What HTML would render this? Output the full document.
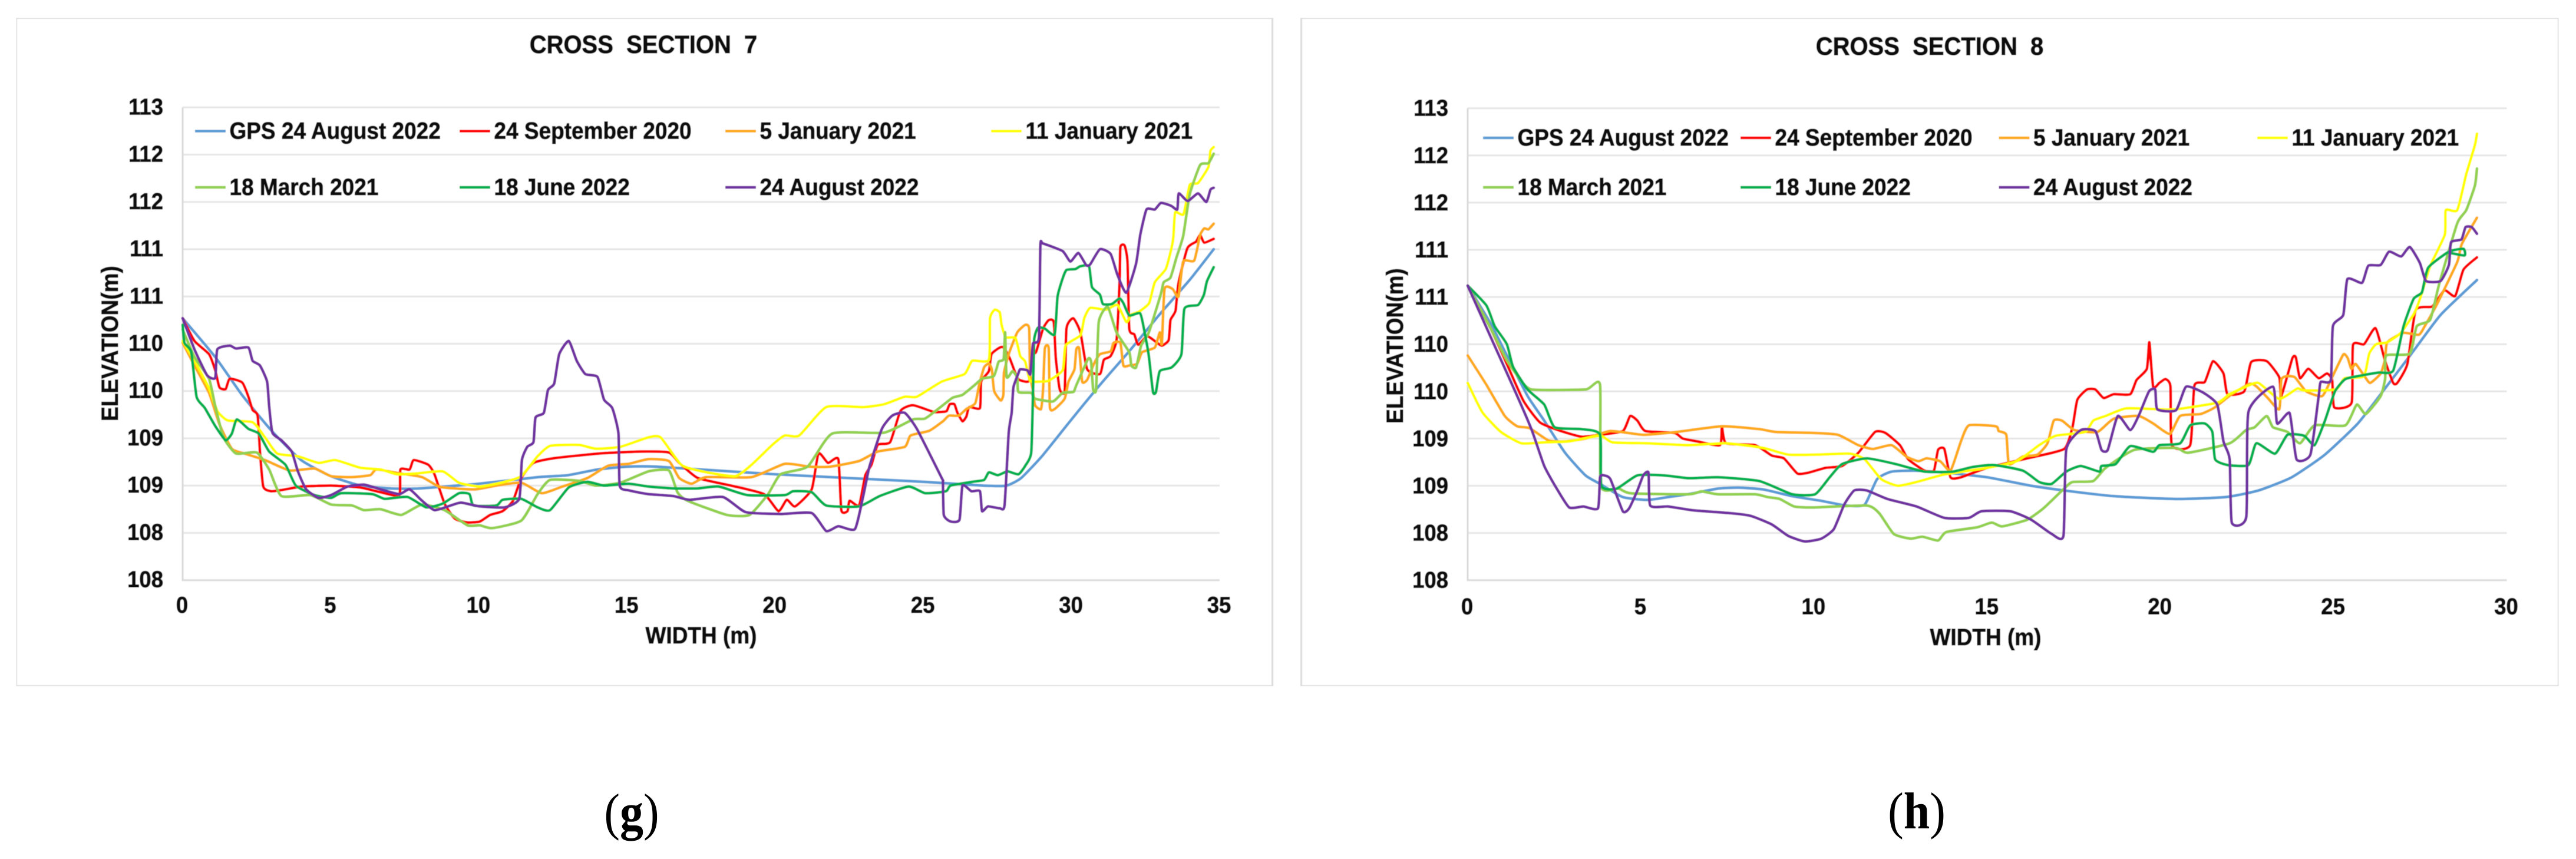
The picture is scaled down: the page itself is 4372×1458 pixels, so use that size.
<!DOCTYPE html>
<html lang="en">
<head>
<meta charset="utf-8">
<title>Cross Sections 7 and 8</title>
<style>
html,body{margin:0;padding:0;background:#fff;width:4372px;height:1458px;overflow:hidden}
svg{display:block}
text{font-family:"Liberation Sans",Arial,sans-serif;font-weight:bold;fill:#0a0a0a;stroke:#0a0a0a;stroke-width:0.9px;white-space:pre}
.cap{font-family:"Liberation Serif","Times New Roman",serif;font-weight:normal;font-size:80px;fill:#000;stroke:none;text-anchor:middle}
.cap tspan{font-weight:bold}
</style>
</head>
<body>
<svg id="figure" xmlns="http://www.w3.org/2000/svg" width="4372" height="1458" viewBox="0 0 4372 1458">
<defs><filter id="soft" x="0" y="0" width="100%" height="100%"><feGaussianBlur stdDeviation="0.6"/></filter></defs>
<rect width="4372" height="1458" fill="#fff"/>
<g filter="url(#soft)">
  <g id="cs7">
    <rect x="27.5" y="30.5" width="2132" height="1134" fill="#fff" stroke="#dcdcdc" stroke-width="3"/>
    <text transform="translate(1092 90) scale(1 1.07)" font-size="40" text-anchor="middle">CROSS  SECTION  7</text>
    <text transform="translate(1190 1092) scale(1 1.07)" font-size="37" text-anchor="middle">WIDTH (m)</text>
    <text transform="translate(200 583) rotate(-90) scale(1 1.07)" font-size="37" text-anchor="middle">ELEVATION(m)</text>
  </g>
  <g id="cs8">
    <rect x="2208.5" y="30.5" width="2134" height="1134" fill="#fff" stroke="#dcdcdc" stroke-width="3"/>
    <text transform="translate(3275 93) scale(1 1.07)" font-size="40" text-anchor="middle">CROSS  SECTION  8</text>
    <text transform="translate(3370 1095) scale(1 1.07)" font-size="37" text-anchor="middle">WIDTH (m)</text>
    <text transform="translate(2381 587) rotate(-90) scale(1 1.07)" font-size="37" text-anchor="middle">ELEVATION(m)</text>
  </g>
</g>
<text class="cap" transform="translate(1072 1408) scale(1 1.1)">(<tspan>g</tspan>)</text>
<text class="cap" transform="translate(3253 1406) scale(1 1.1)">(<tspan>h</tspan>)</text>
</svg>
<script>
const yTickValues=[108,108.5,109,109.5,110,110.5,111,111.5,112,112.5,113];
const yTickLabels=['108','108','109','109','110','110','111','111','112','112','113'];
const cs7XTicks=[0,5,10,15,20,25,30,35];
const cs8XTicks=[0,5,10,15,20,25,30];
const seriesNames=['GPS 24 August 2022','24 September 2020','5 January 2021','11 January 2021','18 March 2021','18 June 2022','24 August 2022'];

const cs7Gps=[[0,110.77],[1.1,110.36],[2,109.96],[3,109.58],[4,109.27],[5,109.1],[6,109],[7,108.97],[8,108.97],[10,109.02],[12,109.09],[13,109.11],[14,109.17],[15,109.2],[16,109.2],[20,109.12],[25,109.04],[27,109],[27.8,109],[28.3,109.08],[29,109.31],[30,109.7],[31,110.08],[32,110.44],[33,110.82],[34,111.18],[34.8,111.5]];
const cs7Sep2020=[[0,110.77],[.4,110.53],[.89,110.39],[1.1,110.22],[1.24,110.04],[1.45,110.02],[1.59,110.13],[2.01,110.09],[2.22,109.94],[2.36,109.8],[2.53,109.74],[2.61,109.36],[2.72,108.99],[2.99,108.94],[3.47,108.96],[4.03,108.99],[5.01,109],[5.98,108.98],[6.68,108.93],[7.31,108.9],[7.35,109.17],[7.66,109.17],[7.8,109.27],[8.29,109.22],[8.5,109.12],[8.84,108.81],[9.19,108.65],[9.61,108.61],[10.03,108.62],[10.38,108.69],[10.8,108.73],[11.15,108.84],[11.43,109.08],[11.84,109.24],[12.54,109.29],[14.08,109.34],[15.47,109.36],[16.41,109.35],[16.76,109.24],[17.39,109.08],[18.51,109],[19.62,108.91],[20.11,108.73],[20.39,108.85],[20.67,108.78],[21.23,108.96],[21.46,109.34],[21.78,109.24],[22.13,109.28],[22.23,108.74],[22.44,108.73],[22.51,108.84],[22.83,108.79],[23.04,109.11],[23.25,109.22],[23.46,109.43],[23.88,109.46],[24.23,109.79],[24.65,109.85],[25.34,109.78],[25.66,109.78],[25.79,109.79],[25.89,109.86],[26.05,109.86],[26.15,109.77],[26.32,109.68],[26.45,109.73],[26.55,109.83],[26.91,109.82],[26.95,110.1],[27.21,110.21],[27.3,110.39],[27.58,110.46],[27.71,110.46],[27.91,110.35],[28.17,110.14],[28.31,110.11],[28.57,110.11],[28.64,110.39],[28.8,110.41],[29.04,110.66],[29.23,110.75],[29.4,110.73],[29.47,110.35],[29.6,110.02],[29.77,110],[29.83,110.66],[30.06,110.77],[30.3,110.62],[30.53,110.23],[30.96,110.18],[31.09,110.33],[31.32,110.37],[31.52,110.54],[31.62,111.12],[31.65,111.52],[31.79,111.54],[31.89,111.37],[31.95,110.66],[32.12,110.6],[32.25,110.49],[32.55,110.58],[32.85,110.52],[33.05,110.48],[33.28,110.54],[33.34,110.75],[33.51,110.85],[33.61,111.14],[33.91,111.51],[34.2,111.58],[34.34,111.65],[34.48,111.57],[34.8,111.61]];
const cs7Jan05=[[0,110.51],[.4,110.27],[.89,109.98],[1.24,109.65],[1.66,109.39],[2.08,109.34],[2.78,109.27],[3.61,109.16],[4.45,109.18],[5.01,109.1],[5.71,109.09],[6.33,109.11],[6.54,109.17],[7.31,109.13],[8.08,109.09],[8.64,108.99],[9.19,108.97],[9.89,108.96],[10.59,109],[11.43,109.03],[12.12,108.92],[12.82,108.99],[13.66,109.08],[14.36,109.21],[15.05,109.23],[15.72,109.28],[16.41,109.26],[16.76,109.08],[17.18,109.02],[17.67,109.09],[19.2,109.09],[20.32,109.23],[21.16,109.2],[21.85,109.2],[22.83,109.26],[23.46,109.36],[24.37,109.41],[24.57,109.53],[25.2,109.58],[25.66,109.68],[25.86,109.74],[26.19,109.74],[26.45,109.81],[26.75,109.87],[26.88,110.06],[27.05,110.25],[27.21,110.29],[27.31,110.23],[27.39,110],[27.61,109.9],[27.7,109.96],[27.72,110.19],[27.88,110.39],[28.17,110.62],[28.44,110.7],[28.57,110.66],[28.6,110.19],[28.7,110],[28.77,109.85],[28.97,109.81],[29.04,110.02],[29.1,110.45],[29.23,110.45],[29.27,109.83],[29.43,109.81],[29.77,109.92],[29.9,110.1],[30.1,110.23],[30.16,110.44],[30.26,110.45],[30.36,110.1],[30.53,110.12],[30.76,110.29],[30.96,110.39],[31.32,110.42],[31.42,110.51],[31.65,110.51],[31.75,110.27],[31.95,110.27],[32.22,110.29],[32.38,110.41],[32.81,110.46],[32.98,110.62],[33.05,110.5],[33.14,111.08],[33.41,111.08],[33.61,111],[33.77,111.37],[34.14,111.38],[34.34,111.65],[34.48,111.72],[34.62,111.71],[34.8,111.77]];
const cs7Jan11=[[0,110.53],[.4,110.32],[.89,110.03],[1.17,109.79],[1.52,109.69],[2.36,109.67],[2.78,109.51],[3.19,109.34],[3.89,109.31],[4.59,109.24],[5.15,109.27],[5.98,109.19],[6.68,109.17],[7.24,109.12],[7.94,109.13],[8.78,109.15],[9.33,109.03],[10.03,108.99],[10.87,109.04],[11.43,109.1],[11.98,109.31],[12.4,109.42],[13.38,109.43],[13.94,109.39],[14.77,109.41],[15.72,109.51],[16.13,109.51],[16.83,109.22],[17.53,109.15],[18.65,109.1],[19.2,109.22],[19.9,109.43],[20.32,109.53],[20.81,109.53],[21.72,109.83],[22.97,109.83],[23.67,109.86],[24.37,109.94],[24.78,109.94],[25.62,110.1],[26.39,110.18],[26.65,110.32],[27.21,110.33],[27.25,110.77],[27.41,110.86],[27.58,110.83],[27.64,110.7],[27.78,110.57],[28.11,110.56],[28.27,110.37],[28.44,110.31],[28.6,110.11],[28.97,110.1],[29.23,110.11],[29.7,110.22],[29.8,110.48],[30.3,110.59],[30.43,110.77],[30.63,110.88],[31.16,110.86],[31.55,110.91],[31.85,110.73],[32.02,110.81],[32.28,110.84],[32.62,110.93],[32.81,111.15],[33.18,111.29],[33.38,111.52],[33.44,111.64],[33.5,111.89],[33.78,111.87],[33.99,112.18],[34.27,112.2],[34.62,112.37],[34.69,112.54],[34.8,112.58]];
const cs7Mar18=[[0,110.65],[.4,110.36],[.89,110.13],[1.1,109.84],[1.38,109.51],[1.8,109.34],[2.5,109.35],[2.92,109.17],[3.33,108.89],[4.31,108.9],[5.01,108.8],[5.71,108.79],[6.12,108.74],[6.68,108.75],[7.38,108.69],[8.08,108.8],[8.84,108.74],[9.61,108.58],[10.03,108.58],[10.45,108.55],[11.43,108.63],[11.98,108.91],[12.4,109.06],[13.38,109.05],[13.94,109],[14.77,109.03],[15.72,109.15],[16.41,109.16],[16.7,108.93],[17.04,108.84],[18.37,108.69],[19.13,108.69],[19.76,108.91],[20.18,109.12],[21.09,109.2],[21.92,109.55],[23.67,109.56],[24.65,109.7],[25.06,109.71],[25.66,109.85],[25.99,109.93],[26.32,109.96],[26.72,110.06],[26.98,110.13],[27.38,110.16],[27.54,110.31],[27.71,110.34],[27.76,110.62],[27.81,110.15],[28.01,110.21],[28.17,110.14],[28.21,109.99],[28.64,109.98],[28.77,109.92],[29.37,109.89],[29.7,109.98],[30.06,109.99],[30.16,110.06],[30.56,110.34],[30.66,110.31],[30.73,110.02],[30.83,110.02],[30.92,110.73],[31.22,110.89],[31.52,110.62],[31.95,110.41],[32.02,110.27],[32.18,110.25],[32.35,110.48],[32.61,110.62],[33.01,111.02],[33.11,111.15],[33.34,111.2],[33.54,111.41],[33.77,111.64],[33.99,112.08],[34.34,112.39],[34.62,112.41],[34.8,112.51]];
const cs7Jun18=[[0,110.7],[.06,110.51],[.29,110.41],[.47,109.94],[.75,109.82],[1.1,109.63],[1.45,109.48],[1.66,109.55],[1.83,109.7],[2.22,109.6],[2.57,109.55],[2.92,109.36],[3.47,109.22],[3.82,109],[4.45,108.9],[5.01,108.87],[5.36,108.92],[6.4,108.91],[6.82,108.86],[7.59,108.88],[8.22,108.77],[8.78,108.81],[9.33,108.92],[9.68,108.91],[9.82,108.79],[10.59,108.79],[10.8,108.85],[11.43,108.86],[11.98,108.77],[12.4,108.74],[13.03,108.98],[13.66,109.04],[14.22,109],[15.05,109.02],[15.72,108.99],[16.55,108.97],[17.39,108.97],[18.09,108.99],[19.06,108.9],[20.32,108.9],[20.6,108.94],[21.23,108.93],[21.72,108.79],[22.83,108.78],[23.53,108.89],[24.5,108.99],[25.06,108.92],[25.76,108.94],[25.92,109],[26.65,109.04],[27.05,109.06],[27.21,109.14],[27.51,109.11],[27.84,109.15],[28.21,109.12],[28.44,109.21],[28.64,109.35],[28.7,109.98],[28.74,110.54],[28.87,110.67],[29.1,110.66],[29.43,110.6],[29.53,111],[29.7,111.19],[29.83,111.28],[30.13,111.29],[30.3,111.32],[30.59,111.32],[30.69,111.1],[30.96,111.02],[31.06,110.92],[31.36,110.92],[31.62,110.98],[31.75,110.93],[31.95,110.8],[32.32,110.82],[32.48,110.6],[32.61,110.37],[32.75,109.99],[32.85,109.99],[32.98,110.21],[33.38,110.25],[33.71,110.39],[33.81,110.87],[34.27,110.91],[34.47,111.02],[34.57,111.16],[34.8,111.31]];
const cs7Aug24=[[0,110.77],[.4,110.44],[.82,110.17],[1.1,110.14],[1.17,110.44],[1.59,110.48],[1.8,110.45],[2.22,110.46],[2.36,110.32],[2.61,110.27],[2.85,110.1],[2.92,109.84],[3.03,109.56],[3.33,109.48],[3.68,109.36],[3.89,109.15],[4.17,108.96],[4.59,108.87],[5.01,108.9],[5.57,108.99],[6.12,109.01],[6.68,108.96],[7.31,108.91],[7.66,108.96],[8.08,108.84],[8.5,108.74],[9.05,108.79],[9.4,108.82],[10.03,108.78],[10.87,108.77],[11.36,108.86],[11.45,109.27],[11.63,109.41],[11.84,109.46],[11.91,109.72],[12.19,109.77],[12.33,110.01],[12.54,110.08],[12.71,110.39],[13.03,110.53],[13.3,110.32],[13.59,110.18],[14,110.15],[14.22,109.91],[14.5,109.82],[14.71,109.55],[14.75,109],[15.05,108.95],[15.72,108.91],[16.55,108.89],[17.11,108.85],[18.23,108.88],[19,108.72],[20.18,108.7],[21.23,108.71],[21.72,108.52],[22.13,108.57],[22.69,108.54],[22.97,108.89],[23.18,109.2],[23.6,109.6],[23.95,109.74],[24.37,109.77],[24.78,109.6],[25.62,109.08],[25.66,109.04],[25.69,108.69],[25.92,108.62],[26.22,108.64],[26.32,109],[26.62,108.94],[26.91,108.94],[26.98,108.73],[27.18,108.78],[27.58,108.76],[27.74,108.79],[27.88,109.56],[27.98,109.77],[28.04,110.04],[28.21,110.19],[28.27,110.23],[28.51,110.22],[28.61,110.18],[28.7,110.5],[28.9,110.57],[28.95,111.54],[29.04,111.56],[29.7,111.48],[29.96,111.37],[30.23,111.46],[30.5,111.33],[30.63,111.34],[30.96,111.5],[31.32,111.45],[31.55,111.23],[31.85,111.04],[32.18,111.35],[32.32,111.65],[32.53,111.92],[32.81,111.92],[33.02,111.99],[33.36,111.96],[33.57,111.92],[33.62,112.09],[33.92,112.01],[34.27,112.09],[34.55,112],[34.69,112.13],[34.8,112.15]];

const cs8Gps=[[0,111.12],[.66,110.72],[1.13,110.38],[1.73,109.95],[2.21,109.69],[2.81,109.35],[3.4,109.11],[3.82,109.02],[4.48,108.88],[5.19,108.85],[5.79,108.88],[6.51,108.92],[7.22,108.97],[7.82,108.98],[8.54,108.96],[9.37,108.89],[10.21,108.84],[10.93,108.79],[11.46,108.8],[11.82,109.07],[12.24,109.15],[12.96,109.16],[13.77,109.14],[15,109.09],[16.27,109],[17.22,108.95],[18.65,108.89],[20.45,108.86],[21.88,108.88],[22.83,108.95],[23.79,109.09],[24.75,109.33],[25.7,109.66],[26.42,110],[27.25,110.4],[28.09,110.81],[29.14,111.18]];
const cs8Sep2020=[[0,111.12],[.66,110.67],[1.13,110.29],[1.61,109.9],[2.09,109.67],[2.69,109.58],[3.28,109.52],[3.82,109.54],[4.48,109.58],[4.69,109.74],[4.9,109.69],[5.13,109.58],[5.97,109.56],[6.21,109.5],[6.63,109.47],[7.28,109.43],[7.34,109.62],[7.46,109.45],[8.3,109.43],[8.78,109.32],[9.13,109.29],[9.52,109.13],[9.85,109.14],[10.33,109.19],[10.81,109.21],[11.28,109.35],[11.76,109.57],[12.06,109.56],[12.48,109.43],[12.72,109.28],[13.19,109.16],[13.46,109.16],[13.58,109.38],[13.76,109.39],[13.94,109.09],[14.24,109.09],[15,109.19],[16.15,109.29],[17.22,109.39],[17.46,109.62],[17.6,109.91],[17.88,110.02],[18.12,110.02],[18.36,109.93],[18.65,109.97],[19.13,109.97],[19.31,110.12],[19.61,110.24],[19.68,110.52],[19.79,110.05],[19.97,110.09],[20.15,110.13],[20.29,110.05],[20.33,109.43],[20.86,109.43],[20.98,110.06],[21.28,110.1],[21.52,110.32],[21.82,110.19],[21.94,109.97],[22.42,110],[22.62,110.31],[23.07,110.32],[23.43,110.15],[23.49,109.95],[23.81,110.35],[23.91,110.36],[24.03,110.14],[24.27,110.24],[24.57,110.14],[24.81,110.19],[24.96,110.12],[25.02,109.83],[25.52,109.88],[25.56,110.49],[25.88,110.5],[26.21,110.67],[26.48,110.33],[26.72,110.09],[26.84,110.09],[27.13,110.29],[27.37,110.86],[27.85,110.9],[28.2,111.07],[28.51,111.01],[28.75,111.29],[29.14,111.42]];
const cs8Jan05=[[0,110.38],[.54,110.07],[1.07,109.74],[1.43,109.63],[1.79,109.61],[2.33,109.48],[2.81,109.47],[3.4,109.5],[4.12,109.58],[5.07,109.54],[6.03,109.57],[7.34,109.63],[8.42,109.6],[8.9,109.57],[9.97,109.56],[10.69,109.54],[11.28,109.43],[11.7,109.39],[12.24,109.43],[12.66,109.31],[13.01,109.26],[13.25,109.29],[13.64,109.26],[13.94,109.16],[14.24,109.47],[14.47,109.64],[15.25,109.63],[15.33,109.58],[15.55,109.54],[15.63,109.23],[16.03,109.31],[16.45,109.33],[16.74,109.45],[16.92,109.69],[17.16,109.69],[17.52,109.59],[18.18,109.57],[18.65,109.71],[19.37,109.74],[19.79,109.66],[20.27,109.55],[20.57,109.74],[21.16,109.76],[21.57,109.83],[22.06,109.97],[22.58,110.08],[22.78,110.05],[23.1,109.93],[23.43,109.81],[23.49,110.12],[23.62,110.16],[23.88,110.15],[24.21,110],[24.67,109.95],[24.92,110.12],[25.28,110.39],[25.41,110.35],[25.51,110.24],[25.64,110.29],[25.93,110.14],[26.06,110.09],[26.36,110.19],[26.49,110.35],[26.55,110.52],[27.01,110.62],[27.46,110.6],[27.63,110.69],[27.98,110.92],[28.57,111.37],[28.7,111.56],[29.14,111.84]];
const cs8Jan11=[[0,110.09],[.42,109.78],[.96,109.57],[1.55,109.45],[2.21,109.46],[2.93,109.47],[3.82,109.53],[4.18,109.46],[5.19,109.45],[6.39,109.43],[7.46,109.45],[8.54,109.4],[9.25,109.33],[10.09,109.33],[11.04,109.34],[11.46,109.28],[11.94,109.07],[12.42,109],[12.96,109.04],[13.77,109.12],[15,109.19],[15.85,109.26],[16.5,109.43],[16.98,109.53],[17.82,109.57],[18.06,109.69],[18.42,109.74],[19.01,109.82],[19.97,109.81],[20.45,109.81],[21.64,109.88],[21.99,109.97],[22.47,110.05],[22.83,110.09],[23.43,109.92],[23.95,110.03],[24.14,110.01],[25.06,110.02],[25.32,110.14],[25.87,110.16],[26.03,110.4],[26.23,110.5],[26.55,110.52],[26.94,110.62],[27.33,110.83],[27.53,111.02],[27.79,111.33],[28.21,111.66],[28.24,111.92],[28.57,111.92],[28.83,112.3],[29.08,112.61],[29.14,112.73]];
const cs8Mar18=[[0,111.12],[.66,110.67],[1.13,110.33],[1.49,110.14],[1.85,110.02],[3.4,110.02],[3.82,110.07],[3.84,109],[4.36,108.97],[4.72,108.92],[6.39,108.91],[6.75,108.94],[7.22,108.91],[8.3,108.91],[8.66,108.88],[9.01,108.86],[9.43,108.78],[9.97,108.77],[11.52,108.79],[11.88,108.71],[12.3,108.49],[12.78,108.44],[13.13,108.46],[13.58,108.42],[13.82,108.51],[14.71,108.56],[15.13,108.61],[15.43,108.57],[16.15,108.64],[16.62,108.76],[17.22,108.97],[17.46,109.04],[18.06,109.05],[18.42,109.19],[19.25,109.38],[20.45,109.4],[20.8,109.35],[22,109.45],[22.47,109.59],[22.72,109.62],[23.07,109.74],[23.25,109.62],[23.67,109.57],[24.03,109.45],[24.45,109.64],[25.34,109.64],[25.67,109.86],[25.93,109.76],[26.36,109.95],[26.49,110.14],[26.52,110.38],[27.2,110.4],[27.4,110.69],[27.79,110.76],[28.05,111.14],[28.57,111.78],[28.83,111.92],[29.08,112.18],[29.14,112.36]];
const cs8Jun18=[[0,111.12],[.54,110.91],[.78,110.69],[1.13,110.5],[1.31,110.26],[1.73,110.02],[2.21,109.86],[2.51,109.62],[3.28,109.6],[3.82,109.54],[3.86,109],[4.3,108.97],[4.9,109.11],[5.67,109.11],[6.39,109.08],[7.22,109.09],[8.42,109.05],[9.37,108.91],[10.03,108.91],[10.45,109.09],[10.81,109.23],[11.52,109.29],[12.36,109.23],[13.19,109.15],[14,109.15],[14.59,109.2],[15.19,109.22],[16.03,109.16],[16.5,109.04],[16.86,109.02],[17.28,109.15],[17.7,109.21],[18.24,109.15],[18.3,109.21],[18.71,109.23],[19.13,109.42],[19.79,109.36],[19.97,109.43],[20.57,109.45],[20.86,109.64],[21.28,109.66],[21.5,109.57],[21.58,109.28],[21.94,109.22],[22.54,109.22],[22.77,109.45],[23.31,109.34],[23.67,109.54],[24.15,109.53],[24.45,109.43],[24.75,109.69],[25.04,110],[25.34,110.13],[25.82,110.17],[26.3,110.2],[26.72,110.22],[27.02,110.69],[27.31,110.98],[27.55,111.05],[27.73,111.31],[28.33,111.48],[28.75,111.51],[28.78,111.44],[28.33,111.47]];
const cs8Aug24=[[0,111.12],[.78,110.48],[1.37,110],[1.85,109.59],[2.21,109.21],[2.57,108.97],[2.93,108.77],[3.34,108.78],[3.76,108.76],[3.82,109.09],[3.94,109.11],[4.12,109.07],[4.48,108.73],[4.66,108.76],[4.9,108.95],[5.07,109.11],[5.22,109.14],[5.27,108.79],[5.79,108.78],[6.51,108.74],[7.58,108.71],[8.18,108.68],[8.78,108.59],[9.25,108.47],[9.73,108.41],[10.21,108.44],[10.57,108.54],[10.87,108.8],[11.16,108.95],[11.52,108.95],[12.12,108.86],[12.96,108.78],[13.76,108.66],[14.47,108.66],[14.83,108.73],[15.67,108.73],[16.27,108.64],[16.86,108.49],[17.2,108.47],[17.28,109.38],[17.7,109.59],[18.12,109.58],[18.3,109.38],[18.48,109.38],[18.77,109.74],[19.13,109.59],[19.37,109.74],[19.67,110],[19.85,110.02],[19.91,109.81],[20.45,109.8],[20.74,110.05],[21.22,109.99],[21.64,109.86],[21.82,109.47],[22,109.28],[22.06,108.61],[22.48,108.67],[22.54,109.78],[23.25,110.05],[23.37,109.66],[23.73,109.77],[23.93,109.28],[24.33,109.33],[24.57,109.95],[24.63,110.1],[24.92,110.12],[24.98,110.69],[25.28,110.81],[25.4,111.19],[25.82,111.15],[26,111.33],[26.36,111.34],[26.6,111.48],[26.95,111.43],[27.2,111.53],[27.49,111.36],[27.67,111.17],[28.09,111.17],[28.33,111.34],[28.39,111.58],[28.69,111.61],[28.81,111.74],[28.99,111.74],[29.14,111.67]];

const seriesColors=['#5B9BD5','#FF0000','#FFAA1E','#FFFF00','#92D050','#00B050','#7030A0'];
const SVGNS='http://www.w3.org/2000/svg';

function addText(parent,x,y,str,size,anchor){
  const t=document.createElementNS(SVGNS,'text');
  t.setAttribute('transform','translate('+x+' '+y+') scale(1 1.07)');
  t.setAttribute('font-size',size);
  t.setAttribute('text-anchor',anchor);
  t.textContent=str;
  parent.appendChild(t);
  return t;
}

function smoothPath(pts){
  const k=0.09;
  let d='M'+pts[0][0].toFixed(1)+' '+pts[0][1].toFixed(1);
  for(let i=0;i<pts.length-1;i++){
    const p0=pts[Math.max(i-1,0)],p1=pts[i],p2=pts[i+1],p3=pts[Math.min(i+2,pts.length-1)];
    d+='C'+(p1[0]+(p2[0]-p0[0])*k).toFixed(1)+' '+(p1[1]+(p2[1]-p0[1])*k).toFixed(1)+' '
      +(p2[0]-(p3[0]-p1[0])*k).toFixed(1)+' '+(p2[1]-(p3[1]-p1[1])*k).toFixed(1)+' '
      +p2[0].toFixed(1)+' '+p2[1].toFixed(1);
  }
  return d;
}

function drawChart(rootId,g,xTicks,seriesData){
  const root=document.getElementById(rootId);
  const sx=v=>g.x0+(v/xTicks[xTicks.length-1])*(g.x1-g.x0);
  const sy=v=>g.yBot-((v-108)/5)*(g.yBot-g.yTop);
  yTickValues.forEach((v,i)=>{
    if(i>0){
      const ln=document.createElementNS(SVGNS,'line');
      ln.setAttribute('x1',g.x0);
      ln.setAttribute('x2',g.x1);
      ln.setAttribute('y1',sy(v));
      ln.setAttribute('y2',sy(v));
      ln.setAttribute('stroke','#e6e6e6');
      ln.setAttribute('stroke-width','3');
      
      
      root.appendChild(ln);
    }
    const t=addText(root,g.yLabelX,sy(v)+g.yLabelDy,yTickLabels[i],36.5,'end');
    
    
  });
  const ya=document.createElementNS(SVGNS,'path');
  ya.setAttribute('d','M'+g.x0+' '+g.yTop+'V'+g.yBot+'H'+g.x1);
  ya.setAttribute('fill','none');
  ya.setAttribute('stroke','#d9d9d9');
  ya.setAttribute('stroke-width','3');
  
  
  root.appendChild(ya);
  xTicks.forEach(v=>{
    const t=addText(root,sx(v)-1,g.xLabelY,String(v),36.5,'middle');
    
    
  });
  seriesData.forEach((pts,i)=>{
    const p=document.createElementNS(SVGNS,'path');
    p.setAttribute('d',smoothPath(pts.map(d=>[sx(d[0]),sy(d[1])])));
    p.setAttribute('fill','none');
    p.setAttribute('stroke',seriesColors[i]);
    p.setAttribute('stroke-width','4.6');
    p.setAttribute('stroke-linejoin','round');
    p.setAttribute('stroke-linecap','round');
    
    p.setAttribute('data-series',seriesNames[i]);
    
    root.appendChild(p);
  });
  seriesNames.forEach((name,i)=>{
    const col=i<4?i:i-4;
    const rowY=i<4?g.legendRows[0]:g.legendRows[1];
    const ll=document.createElementNS(SVGNS,'line');
    ll.setAttribute('x1',g.legendCols[col]);
    ll.setAttribute('x2',g.legendCols[col]+52);
    ll.setAttribute('y1',rowY);
    ll.setAttribute('y2',rowY);
    ll.setAttribute('stroke',seriesColors[i]);
    ll.setAttribute('stroke-width','4.4');
    
    
    root.appendChild(ll);
    const t=addText(root,g.legendCols[col]+58.5,rowY+13,name,37,'start');
    
    
  });
}

drawChart('cs7',{x0:310,x1:2070,yTop:182.3,yBot:984.7,yLabelX:277,yLabelDy:12,xLabelY:1040,legendCols:[331,780,1231,1682],legendRows:[222.6,318]},cs7XTicks,[cs7Gps,cs7Sep2020,cs7Jan05,cs7Jan11,cs7Mar18,cs7Jun18,cs7Aug24]);
drawChart('cs8',{x0:2491,x1:4254.5,yTop:183.7,yBot:984.7,yLabelX:2458,yLabelDy:13,xLabelY:1042.7,legendCols:[2517,2954,3392.5,3831],legendRows:[234,318]},cs8XTicks,[cs8Gps,cs8Sep2020,cs8Jan05,cs8Jan11,cs8Mar18,cs8Jun18,cs8Aug24]);
</script>
</body>
</html>
